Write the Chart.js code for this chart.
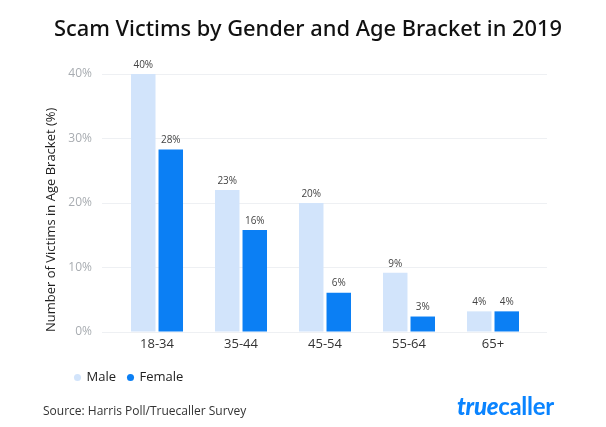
<!DOCTYPE html>
<html><head><meta charset="utf-8">
<script src="https://cdn.jsdelivr.net/npm/chart.js@4/dist/chart.umd.min.js"></script>
<style>
html,body{margin:0;padding:0;background:#fff;}
#wrap{position:relative;width:606px;height:427px;overflow:hidden;}
canvas{position:absolute;left:0;top:0;}
#src{position:absolute;left:43px;top:402px;font:12px "Open Sans";color:#333;white-space:nowrap;}
#logo{position:absolute;left:457px;top:391px;font:700 24px Lato;color:#0a84ff;white-space:nowrap;letter-spacing:-0.3px;}
</style></head><body>
<div id="wrap"><canvas id="c" width="606" height="427"></canvas>
<div id="src">Source: Harris Poll/Truecaller Survey</div>
<div id="logo"><span style="font-style:italic;font-weight:900">true</span>caller</div></div>
<script>
const categories = ['18-34', '35-44', '45-54', '55-64', '65+'];
const maleValues = [40, 22, 20, 9.2, 3.2];
const femaleValues = [28.3, 15.8, 6.1, 2.4, 3.2];
const maleLabels = ['40%', '23%', '20%', '9%', '4%'];
const femaleLabels = ['28%', '16%', '6%', '3%', '4%'];
const yTickValues = [0, 10, 20, 30, 40];

const valueLabels = [maleLabels, femaleLabels];

const barLabelPlugin = {
  id: 'barLabels',
  afterLayout(chart) {
    if (chart.legend) { chart.legend.left += 24; }
    if (chart.titleBlock) { chart.titleBlock.left += 15; chart.titleBlock.right += 15; }
  },
  afterDatasetsDraw(chart) {
    const ctx = chart.ctx;
    ctx.save();
    ctx.font = '10px "Open Sans"';
    ctx.fillStyle = '#444';
    ctx.textAlign = 'center';
    ctx.textBaseline = 'bottom';
    chart.data.datasets.forEach((ds, di) => {
      const meta = chart.getDatasetMeta(di);
      meta.data.forEach((el, i) => {
        ctx.fillText(valueLabels[di][i], el.x, el.y - 4);
      });
    });
    ctx.restore();
  }
};

new Chart(document.getElementById('c'), {
  type: 'bar',
  data: {
    datasets: [
      { label: 'Male', data: maleValues.map((v, i) => ({ x: i, y: v })), backgroundColor: '#d2e4fb', categoryPercentage: 0.655, barPercentage: 0.89 },
      { label: 'Female', data: femaleValues.map((v, i) => ({ x: i, y: v })), backgroundColor: '#0b7ff4', categoryPercentage: 0.655, barPercentage: 0.89 }
    ]
  },
  options: {
    responsive: false,
    animation: false,
    layout: { padding: { left: 39, right: 59, top: 0, bottom: 33 } },
    plugins: {
      title: {
        display: true,
        text: 'Scam Victims by Gender and Age Bracket in 2019',
        color: '#111',
        font: { family: 'Noto Sans', size: 22.5, weight: '500' },
        padding: { top: 16, bottom: 31 }
      },
      legend: {
        position: 'bottom',
        align: 'start',
        labels: {
          usePointStyle: true,
          pointStyle: 'circle',
          boxWidth: 5,
          boxHeight: 5,
          color: '#222',
          font: { family: 'Open Sans', size: 13 },
          padding: 12
        }
      },
      tooltip: { enabled: false }
    },
    scales: {
      x: {
        type: 'linear',
        offset: false,
        min: -0.655,
        max: 4.643,
        grid: { display: false, drawTicks: false },
        border: { display: false },
        afterBuildTicks: (axis) => { axis.ticks = categories.map((c, i) => ({ value: i })); },
        afterFit: (axis) => { axis.height = 27; },
        ticks: {
          color: '#333',
          font: { family: 'Open Sans', size: 13 },
          padding: 4,
          autoSkip: false,
          maxRotation: 0,
          callback: (v) => categories[v]
        }
      },
      y: {
        min: 0,
        max: 40,
        afterBuildTicks: (axis) => { axis.ticks = yTickValues.map(v => ({ value: v })); },
        afterFit: (axis) => { axis.width = 63; },
        grid: { color: '#eef0f3', drawTicks: false },
        border: { display: false },
        ticks: {
          color: '#a8acb1',
          font: { family: 'Open Sans', size: 12 },
          padding: 10,
          callback: (v) => v + '%'
        },
        title: {
          display: true,
          align: 'start',
          text: 'Number of Victims in Age Bracket (%)',
          color: '#1e1e1e',
          font: { family: 'Open Sans', size: 13 }
        }
      }
    }
  },
  plugins: [barLabelPlugin]
});
</script>
</body></html>
